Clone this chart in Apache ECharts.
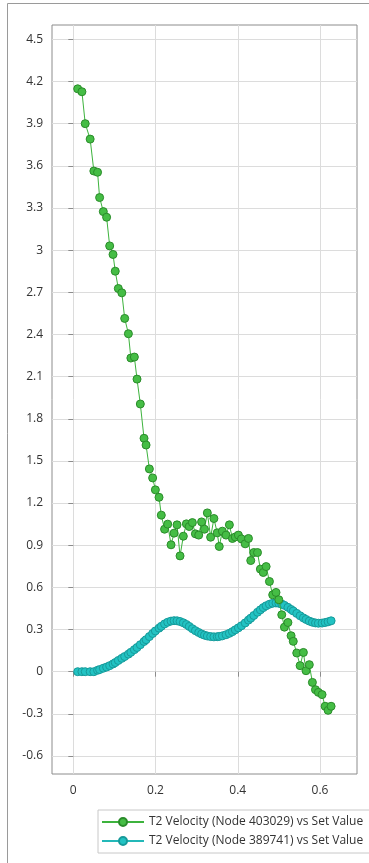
<!DOCTYPE html>
<html>
<head>
<meta charset="utf-8">
<script src="https://cdn.jsdelivr.net/npm/echarts@6/dist/echarts.min.js"></script>
<style>
    html, body { margin: 0; padding: 0; background: #fff; }
    #chart { width: 369px; height: 863px; }
</style>
</head>
<body>
<div id="chart"></div>
<script>
// set values (x) shared by both series
const setValues = [
    0.0107, 0.021, 0.029, 0.041, 0.050, 0.059, 0.064, 0.073, 0.081, 0.0885,
    0.0966, 0.102, 0.1095, 0.118, 0.125, 0.134, 0.140, 0.1485, 0.155, 0.163,
    0.172, 0.177, 0.185, 0.193, 0.1996, 0.2085, 0.214, 0.222, 0.2296, 0.2377,
    0.245, 0.2523, 0.2596, 0.2676, 0.275, 0.282, 0.2896, 0.297, 0.305, 0.312,
    0.319, 0.326, 0.334, 0.342, 0.350, 0.355, 0.3625, 0.3715, 0.3796, 0.387,
    0.394, 0.4015, 0.409, 0.418, 0.426, 0.4316, 0.439, 0.448, 0.455, 0.462,
    0.469, 0.477, 0.485, 0.493, 0.4998, 0.507, 0.5135, 0.522, 0.5297, 0.535,
    0.5435, 0.5516, 0.5596, 0.566, 0.574, 0.5815, 0.589, 0.596, 0.605, 0.6125,
    0.6197, 0.627
];

const node403029 = [
    4.148, 4.127, 3.90, 3.79, 3.563, 3.554, 3.374, 3.274, 3.234, 3.03,
    2.969, 2.85, 2.727, 2.696, 2.514, 2.405, 2.232, 2.239, 2.082, 1.905,
    1.661, 1.613, 1.443, 1.379, 1.294, 1.241, 1.114, 1.014, 1.050, 0.903,
    0.986, 1.045, 0.824, 0.964, 1.052, 1.033, 1.061, 0.981, 0.972, 1.066,
    1.014, 1.130, 0.957, 1.09, 0.988, 0.891, 1.0, 0.972, 1.045, 0.948,
    0.959, 0.972, 0.945, 0.91, 0.948, 0.791, 0.848, 0.848, 0.73, 0.706,
    0.748, 0.642, 0.547, 0.564, 0.512, 0.405, 0.317, 0.35, 0.256, 0.216,
    0.133, 0.043, 0.137, 0.007, 0.05, -0.076, -0.128, -0.147, -0.163, -0.246,
    -0.275, -0.246
];

const node389741 = [
    0.0, 0.0, 0.0, 0.0, 0.0, 0.01, 0.015, 0.025, 0.033, 0.043,
    0.055, 0.065, 0.08, 0.095, 0.108, 0.125, 0.138, 0.157, 0.172, 0.192,
    0.215, 0.228, 0.25, 0.272, 0.29, 0.31, 0.323, 0.34, 0.352, 0.36,
    0.363, 0.362, 0.357, 0.348, 0.336, 0.322, 0.306, 0.292, 0.279, 0.268,
    0.26, 0.254, 0.25, 0.248, 0.249, 0.251, 0.255, 0.263, 0.273, 0.285,
    0.298, 0.312, 0.327, 0.347, 0.367, 0.381, 0.4, 0.423, 0.44, 0.456,
    0.469, 0.48, 0.487, 0.489, 0.487, 0.481, 0.472, 0.458, 0.443, 0.432,
    0.415, 0.398, 0.383, 0.372, 0.36, 0.352, 0.347, 0.345, 0.346, 0.35,
    0.355, 0.362
];

const xTicks = [0, 0.2, 0.4, 0.6];
const yTicks = [-0.6, -0.3, 0, 0.3, 0.6, 0.9, 1.2, 1.5, 1.8, 2.1, 2.4, 2.7, 3, 3.3, 3.6, 3.9, 4.2, 4.5];

const seriesNames = [
    'T2 Velocity (Node 403029) vs Set Value',
    'T2 Velocity (Node 389741) vs Set Value'
];

const FONT = '"Open Sans", "Noto Sans", sans-serif';

function pairs(xs, ys) {
    return xs.map((x, i) => [x, ys[i]]);
}

const chart = echarts.init(document.getElementById('chart'), null, { renderer: 'canvas' });

chart.setOption({
    animation: false,
    backgroundColor: '#fff',
    textStyle: { fontFamily: FONT },
    graphic: [
        // outer frame (top and left edges)
        { type: 'line', shape: { x1: 7.5, y1: 3.5, x2: 369, y2: 3.5 }, style: { stroke: '#9a9a9a', lineWidth: 1 } },
        { type: 'line', shape: { x1: 7.5, y1: 3.5, x2: 7.5, y2: 863 }, style: { stroke: '#9a9a9a', lineWidth: 1 } }
    ],
    grid: {
        left: 52, right: 12, top: 25, bottom: 89,
        show: true,
        borderColor: '#8c8c8c',
        borderWidth: 1,
        backgroundColor: 'transparent'
    },
    legend: {
        orient: 'vertical',
        left: 98,
        top: 810,
        width: 270,
        data: seriesNames,
        backgroundColor: '#fff',
        borderColor: '#c8c8c8',
        borderWidth: 1,
        borderRadius: 0,
        padding: [5, 8, 5, 3],
        itemWidth: 42,
        itemHeight: 10,
        itemGap: 5,
        textStyle: { fontFamily: FONT, fontSize: 12, color: '#333', lineHeight: 14 }
    },
    xAxis: {
        type: 'value',
        min: -0.0518,
        max: 0.69,
        axisLine: { show: false },
        axisTick: { show: true, length: 5, lineStyle: { color: '#8c8c8c' }, customValues: xTicks },
        axisLabel: { customValues: xTicks, color: '#333', fontSize: 12, margin: 11, fontFamily: FONT },
        splitLine: { show: true, lineStyle: { color: '#dcdcdc', width: 1 } }
    },
    yAxis: {
        type: 'value',
        min: -0.728,
        max: 4.602,
        axisLine: { show: false },
        axisTick: { show: true, length: 5, lineStyle: { color: '#8c8c8c' }, customValues: yTicks },
        axisLabel: { customValues: yTicks, color: '#333', fontSize: 12, margin: 9, fontFamily: FONT },
        splitLine: { show: true, lineStyle: { color: '#dcdcdc', width: 1 } }
    },
    series: [
        {
            name: seriesNames[1],
            type: 'line',
            z: 2,
            data: pairs(setValues, node389741),
            symbol: 'circle',
            symbolSize: 8,
            showAllSymbol: true,
            lineStyle: { color: '#23b8b8', width: 1 },
            itemStyle: { color: '#22c3c3', borderColor: '#179a9a', borderWidth: 1 }
        },
        {
            name: seriesNames[0],
            type: 'line',
            z: 3,
            data: pairs(setValues, node403029),
            symbol: 'circle',
            symbolSize: 8,
            showAllSymbol: true,
            lineStyle: { color: '#3db33d', width: 1 },
            itemStyle: { color: '#45bd45', borderColor: '#2a8c2a', borderWidth: 1 }
        }
    ]
});
</script>
</body>
</html>
